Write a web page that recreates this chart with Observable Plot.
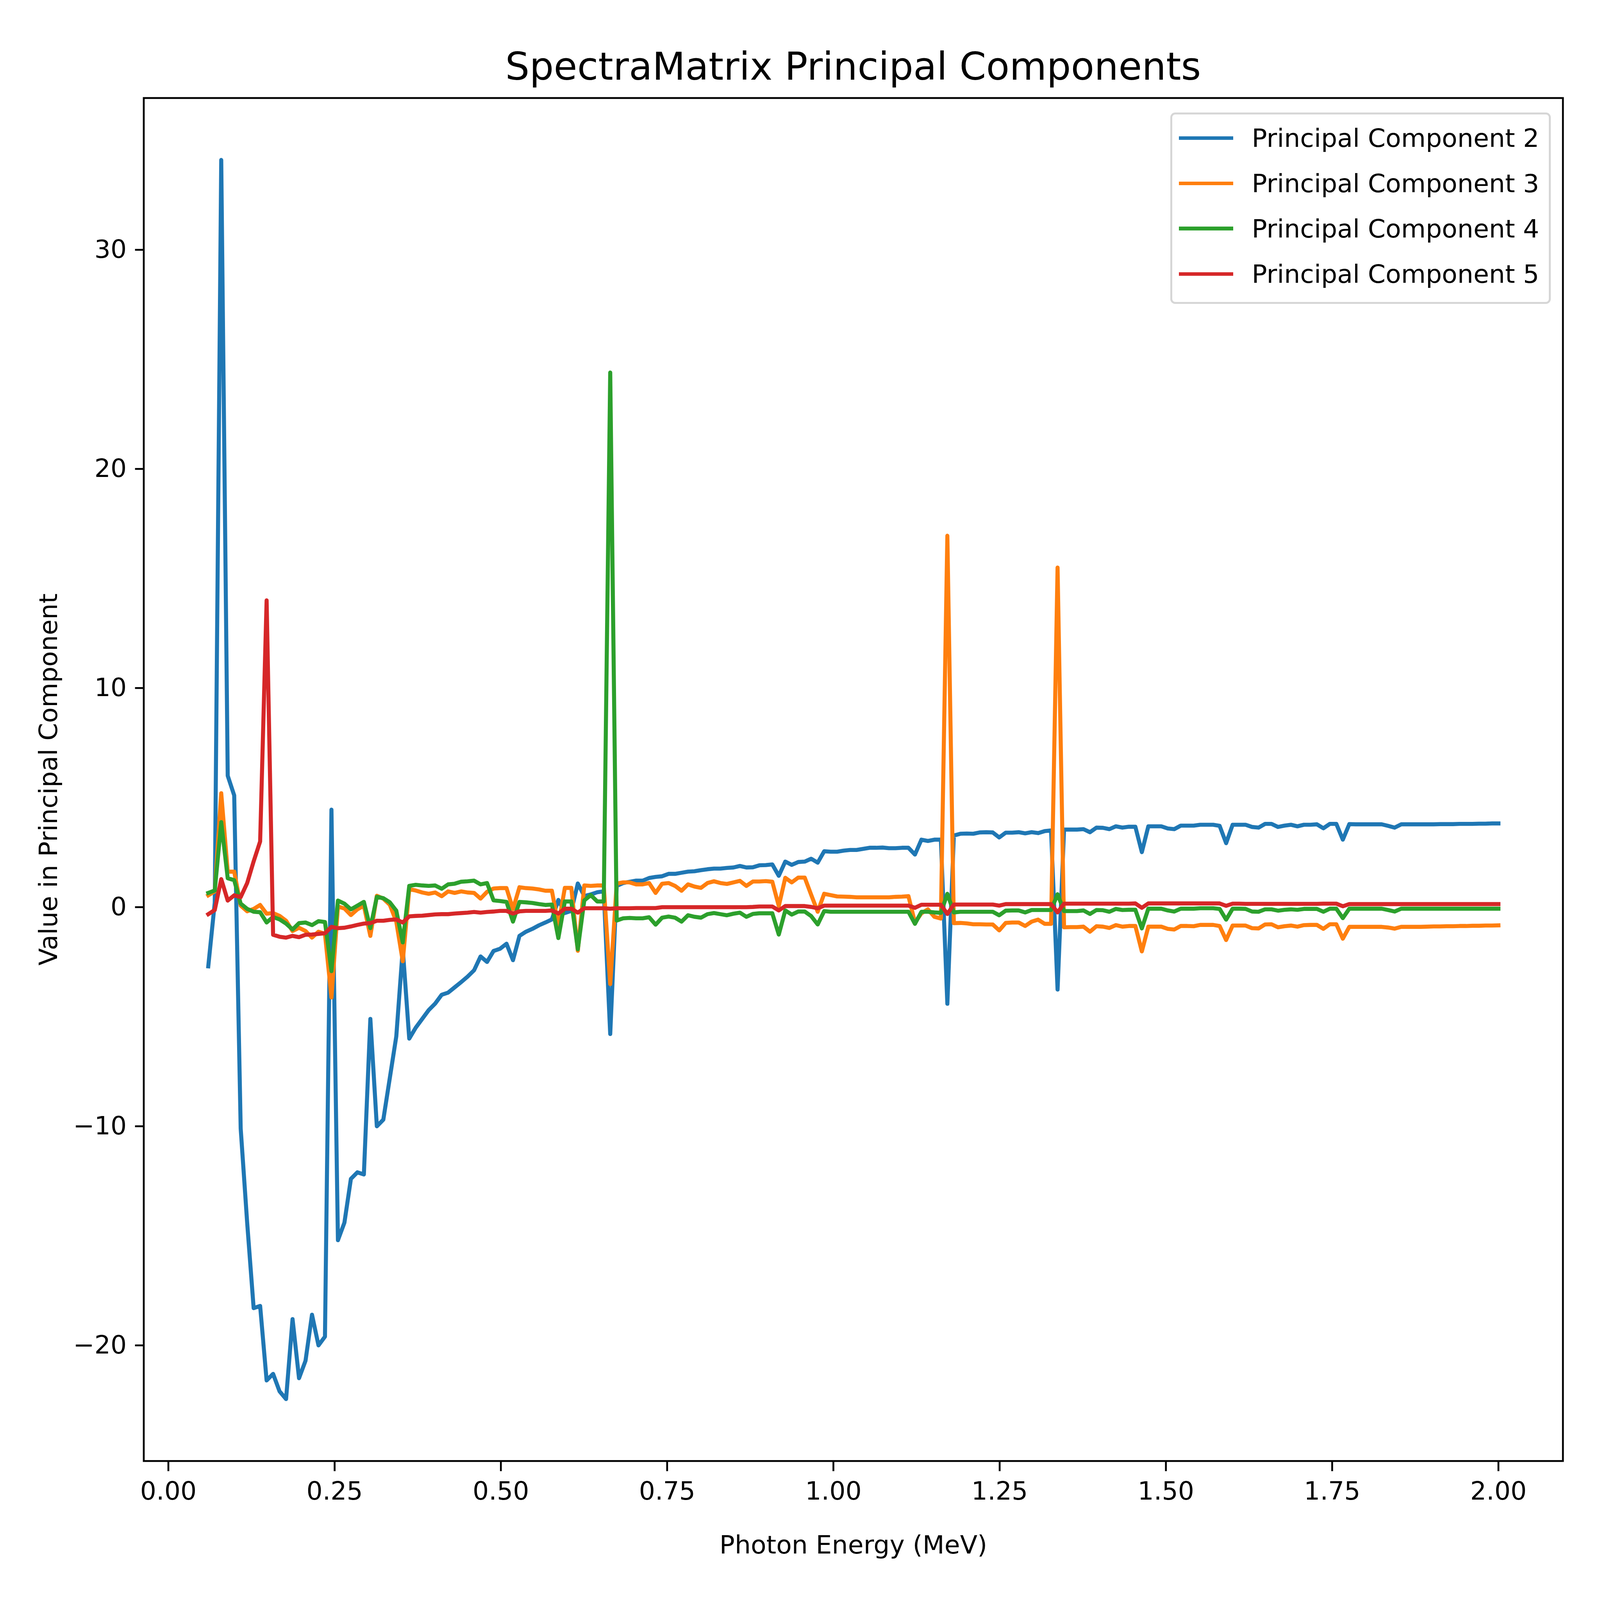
<!DOCTYPE html>
<html>
<head>
<meta charset="utf-8">
<script src="https://cdn.jsdelivr.net/npm/d3@7"></script>
<script src="https://cdn.jsdelivr.net/npm/@observablehq/plot@0.6"></script>
<style>
html, body { margin: 0; padding: 0; background: #fff; overflow: hidden; }
#fig { position: relative; font-family: "DejaVu Sans", sans-serif; overflow: hidden; background: #fff; }
#chart svg { display: block; }
.abs { position: absolute; white-space: nowrap; color: #000; line-height: 1; }
</style>
</head>
<body>
<div id="fig">
  <div id="chart"></div>
</div>
<script>
// ---- data ----
const titleText = "SpectraMatrix Principal Components";
const xLabel = "Photon Energy (MeV)";
const yLabel = "Value in Principal Component";
const seriesNames = ["Principal Component 2", "Principal Component 3", "Principal Component 4", "Principal Component 5"];
const xTicks = [0, 0.25, 0.5, 0.75, 1.0, 1.25, 1.5, 1.75, 2.0];
const yTicks = [-20, -10, 0, 10, 20, 30];
// energy channels: 200 channels from 0.06 to 2.0 MeV
const energyStart = 0.06;
const energyEnd = 2.0;

const pc2 = [
 -2.7, 0.2, 34.1, 6.0, 5.1, -10.1, -14.4, -18.3, -18.2, -21.6,
 -21.3, -22.1, -22.45, -18.8, -21.5, -20.7, -18.6, -20.0, -19.6, 4.45,
 -15.2, -14.4, -12.4, -12.1, -12.2, -5.1, -10.0, -9.7, -7.8, -5.9,
 -1.9, -6.0, -5.5, -5.1, -4.7, -4.4, -4.0, -3.9, -3.66, -3.42,
 -3.17, -2.88, -2.25, -2.5, -2.0, -1.9, -1.67, -2.42, -1.31, -1.12,
 -0.99, -0.83, -0.7, -0.56, 0.33, -0.27, -0.17, 1.08, 0.51, 0.58,
 0.68, 0.72, -5.79, 0.97, 1.1, 1.16, 1.21, 1.21, 1.33, 1.38,
 1.41, 1.52, 1.52, 1.57, 1.62, 1.64, 1.69, 1.73, 1.76, 1.76,
 1.79, 1.81, 1.88, 1.81, 1.82, 1.91, 1.92, 1.95, 1.43, 2.08,
 1.93, 2.06, 2.08, 2.21, 2.03, 2.55, 2.53, 2.53, 2.58, 2.61,
 2.61, 2.66, 2.71, 2.71, 2.72, 2.69, 2.69, 2.71, 2.71, 2.4,
 3.08, 3.02, 3.08, 3.08, -4.41, 3.27, 3.35, 3.36, 3.35, 3.41,
 3.42, 3.41, 3.18, 3.4, 3.4, 3.42, 3.37, 3.42, 3.38, 3.47,
 3.5, -3.76, 3.54, 3.54, 3.54, 3.56, 3.42, 3.63, 3.62, 3.56,
 3.69, 3.63, 3.67, 3.67, 2.51, 3.69, 3.69, 3.69, 3.59, 3.56,
 3.72, 3.72, 3.72, 3.76, 3.76, 3.76, 3.71, 2.92, 3.76, 3.76,
 3.76, 3.66, 3.63, 3.8, 3.8, 3.66, 3.72, 3.76, 3.69, 3.76,
 3.76, 3.78, 3.6, 3.8, 3.8, 3.08, 3.79, 3.78, 3.78, 3.78,
 3.78, 3.78, 3.71, 3.63, 3.78, 3.78, 3.78, 3.78, 3.78, 3.78,
 3.79, 3.79, 3.79, 3.8, 3.8, 3.8, 3.81, 3.81, 3.82, 3.82
];
const pc3 = [
 0.54, 0.72, 5.2, 1.62, 1.62, 0.07, -0.19, -0.08, 0.1, -0.3,
 -0.27, -0.4, -0.62, -1.09, -0.94, -1.09, -1.39, -1.12, -1.22, -4.12,
 0.03, -0.06, -0.36, -0.1, 0.07, -1.31, 0.52, 0.39, 0.11, -0.66,
 -2.47, 0.82, 0.76, 0.67, 0.61, 0.67, 0.5, 0.72, 0.65, 0.72,
 0.67, 0.65, 0.39, 0.7, 0.85, 0.87, 0.87, -0.09, 0.91, 0.87,
 0.85, 0.81, 0.75, 0.75, -0.82, 0.88, 0.88, -1.99, 0.99, 0.97,
 0.99, 0.99, -3.51, 1.08, 1.13, 1.13, 1.04, 1.04, 1.1, 0.65,
 1.07, 1.1, 0.97, 0.75, 1.04, 0.94, 0.88, 1.1, 1.18, 1.1,
 1.06, 1.13, 1.2, 0.97, 1.17, 1.17, 1.19, 1.16, 0.05, 1.34,
 1.13, 1.35, 1.35, 0.56, -0.21, 0.61, 0.55, 0.49, 0.48, 0.47,
 0.45, 0.45, 0.45, 0.45, 0.45, 0.45, 0.47, 0.48, 0.5, -0.7,
 -0.28, -0.1, -0.44, -0.52, 16.95, -0.73, -0.72, -0.74, -0.78, -0.78,
 -0.79, -0.79, -1.06, -0.72, -0.7, -0.7, -0.86, -0.66, -0.57, -0.76,
 -0.76, 15.5, -0.92, -0.91, -0.91, -0.89, -1.12, -0.87, -0.89, -0.95,
 -0.82, -0.89, -0.86, -0.86, -2.02, -0.89, -0.89, -0.89, -0.99, -1.02,
 -0.86, -0.86, -0.87, -0.81, -0.81, -0.81, -0.86, -1.5, -0.84, -0.84,
 -0.84, -0.96, -0.97, -0.79, -0.78, -0.92, -0.87, -0.84, -0.89, -0.82,
 -0.81, -0.81, -0.99, -0.78, -0.78, -1.44, -0.9, -0.9, -0.9, -0.9,
 -0.9, -0.9, -0.93, -0.98, -0.9, -0.9, -0.9, -0.9, -0.89, -0.88,
 -0.88, -0.87, -0.87, -0.86, -0.86, -0.85, -0.85, -0.84, -0.84, -0.83
];
const pc4 = [
 0.65, 0.76, 3.88, 1.32, 1.23, 0.16, -0.08, -0.21, -0.23, -0.7,
 -0.45, -0.56, -0.75, -1.02, -0.73, -0.7, -0.82, -0.64, -0.68, -2.92,
 0.3, 0.16, -0.1, 0.07, 0.24, -0.96, 0.47, 0.41, 0.22, -0.16,
 -1.61, 0.97, 1.02, 0.99, 0.97, 0.99, 0.84, 1.04, 1.07, 1.16,
 1.18, 1.21, 1.04, 1.1, 0.31, 0.28, 0.24, -0.66, 0.24, 0.22,
 0.19, 0.14, 0.1, 0.12, -1.41, 0.26, 0.26, -1.92, 0.31, 0.55,
 0.26, 0.26, 24.4, -0.61, -0.51, -0.49, -0.51, -0.51, -0.46, -0.8,
 -0.48, -0.43, -0.48, -0.66, -0.37, -0.44, -0.48, -0.32, -0.27, -0.32,
 -0.37, -0.3, -0.25, -0.44, -0.31, -0.28, -0.28, -0.28, -1.25, -0.15,
 -0.34, -0.2, -0.2, -0.41, -0.79, -0.18, -0.21, -0.21, -0.21, -0.21,
 -0.21, -0.21, -0.21, -0.21, -0.21, -0.21, -0.21, -0.21, -0.21, -0.76,
 -0.21, -0.21, -0.24, -0.26, 0.61, -0.24, -0.21, -0.21, -0.21, -0.21,
 -0.21, -0.21, -0.37, -0.16, -0.15, -0.15, -0.24, -0.13, -0.13, -0.13,
 -0.13, 0.59, -0.18, -0.18, -0.18, -0.15, -0.31, -0.13, -0.14, -0.21,
 -0.08, -0.13, -0.12, -0.12, -0.97, -0.07, -0.07, -0.07, -0.15, -0.2,
 -0.07, -0.07, -0.07, -0.05, -0.05, -0.05, -0.08, -0.57, -0.07, -0.07,
 -0.08, -0.2, -0.21, -0.1, -0.1, -0.16, -0.12, -0.1, -0.12, -0.08,
 -0.08, -0.08, -0.21, -0.07, -0.07, -0.5, -0.07, -0.07, -0.07, -0.07,
 -0.07, -0.07, -0.13, -0.2, -0.07, -0.07, -0.07, -0.07, -0.07, -0.07,
 -0.07, -0.07, -0.07, -0.07, -0.07, -0.07, -0.07, -0.07, -0.07, -0.07
];
const pc5 = [
 -0.32, -0.13, 1.28, 0.3, 0.54, 0.46, 1.1, 2.09, 3.0, 14.0,
 -1.26, -1.35, -1.39, -1.31, -1.37, -1.26, -1.25, -1.22, -1.19, -0.9,
 -0.96, -0.94, -0.88, -0.81, -0.75, -0.73, -0.62, -0.62, -0.58, -0.56,
 -0.7, -0.42, -0.4, -0.39, -0.36, -0.33, -0.32, -0.32, -0.29, -0.27,
 -0.25, -0.22, -0.25, -0.22, -0.2, -0.17, -0.17, -0.29, -0.19, -0.17,
 -0.17, -0.17, -0.17, -0.15, -0.29, -0.07, -0.07, -0.25, -0.05, -0.05,
 -0.05, -0.05, -0.07, -0.05, -0.05, -0.05, -0.04, -0.04, -0.04, -0.04,
 0.0, 0.0, 0.0, 0.0, 0.0, 0.0, 0.0, 0.0, 0.0, 0.0,
 0.0, 0.0, 0.0, 0.0, 0.01, 0.03, 0.03, 0.03, -0.15, 0.05,
 0.05, 0.05, 0.05, 0.01, -0.05, 0.07, 0.07, 0.07, 0.07, 0.07,
 0.07, 0.07, 0.07, 0.07, 0.07, 0.07, 0.07, 0.07, 0.07, -0.03,
 0.11, 0.11, 0.11, 0.11, -0.31, 0.12, 0.12, 0.12, 0.12, 0.12,
 0.12, 0.12, 0.07, 0.14, 0.14, 0.14, 0.14, 0.14, 0.14, 0.14,
 0.14, -0.24, 0.16, 0.16, 0.16, 0.16, 0.16, 0.16, 0.16, 0.16,
 0.16, 0.16, 0.16, 0.17, -0.03, 0.17, 0.17, 0.17, 0.17, 0.17,
 0.17, 0.17, 0.17, 0.17, 0.17, 0.17, 0.17, 0.06, 0.16, 0.16,
 0.15, 0.15, 0.15, 0.15, 0.15, 0.15, 0.15, 0.15, 0.15, 0.15,
 0.15, 0.15, 0.16, 0.16, 0.16, 0.04, 0.14, 0.14, 0.14, 0.14,
 0.14, 0.14, 0.14, 0.14, 0.14, 0.14, 0.14, 0.14, 0.14, 0.14,
 0.14, 0.14, 0.14, 0.14, 0.14, 0.14, 0.14, 0.14, 0.14, 0.14
];

// ---- styles ----
const colors = ["#1f77b4", "#ff7f0e", "#2ca02c", "#d62728"];

// ---- layout: reference figure is 5238 x 4334; fit to the actual viewport ----
const REF_W = 5238, REF_H = 4334;
const W = window.innerWidth || REF_W;
const H = window.innerHeight || REF_H;
const sx = W / REF_W, sy = H / REF_H;
const fs = Math.min(sx, sy);
const fig = document.getElementById("fig");
fig.style.width = W + "px";
fig.style.height = H + "px";

// ---- build table ----
const seriesValues = [pc2, pc3, pc4, pc5];
const nChannels = pc2.length;
const energies = d3.range(nChannels).map(i => energyStart + i * (energyEnd - energyStart) / (nChannels - 1));
const table = seriesValues.flatMap((vals, s) => vals.map((v, i) => ({energy: energies[i], value: v, series: seriesNames[s]})));

const xPad = (energyEnd - energyStart) * 0.05;
const allVals = seriesValues.flat();
const yMin = d3.min(allVals), yMax = d3.max(allVals);
const yPad = (yMax - yMin) * 0.05;

const lineW = 12 * (sx + sy) / 2;
const lineMarks = seriesNames.map((name, s) => Plot.line(table, {
  filter: d => d.series === name,
  x: "energy", y: "value",
  stroke: colors[s], strokeWidth: lineW,
  strokeLinejoin: "round", strokeLinecap: "square"
}));

const tickFont = 83 * fs;
const spineW = Math.max(1, 6 * fs);

const chart = Plot.plot({
  width: W,
  height: H,
  marginTop: 265 * sy,
  marginLeft: 470 * sx,
  marginRight: 122 * sx,
  marginBottom: 377 * sy,
  style: {fontFamily: "DejaVu Sans", fontSize: tickFont + "px", background: "white", color: "black", overflow: "visible"},
  x: {domain: [energyStart - xPad, energyEnd + xPad]},
  y: {domain: [yMin - yPad, yMax + yPad]},
  marks: [
    ...lineMarks,
    Plot.frame({stroke: "black", strokeWidth: spineW}),
    Plot.axisX({ticks: xTicks, tickFormat: d3.format(".2f"), tickSize: 28 * sy, tickPadding: 28 * sy, strokeWidth: spineW, fontSize: tickFont,
      label: xLabel, labelAnchor: "center", labelArrow: "none", labelOffset: 251 * sy}),
    Plot.axisY({ticks: yTicks, tickSize: 28 * sx, tickPadding: 28 * sx, strokeWidth: spineW, fontSize: tickFont,
      label: yLabel, labelAnchor: "center", labelArrow: "none", labelOffset: 343 * sx})
  ]
});
document.getElementById("chart").appendChild(chart);

function addAbs(styles, text) {
  const el = document.createElement("div");
  el.className = "abs";
  Object.assign(el.style, styles);
  if (text != null) el.textContent = text;
  fig.appendChild(el);
  return el;
}

// title (centred over the plot frame, baseline ~217 ref px)
const titleFont = 125 * fs;
addAbs({left: (470 * sx) + "px", width: ((5116 - 470) * sx) + "px", textAlign: "center",
  top: (217 * sy - 0.846 * titleFont) + "px", fontSize: titleFont + "px"}, titleText);

// legend box (upper right, inside the frame)
addAbs({left: (3831 * sx) + "px", top: (305 * sy) + "px", width: (1246 * sx) + "px", height: (518 * sy) + "px",
  boxSizing: "border-box", border: (7 * fs) + "px solid #d6d6d6", borderRadius: (16 * fs) + "px",
  background: "rgba(255,255,255,0.8)"});
const rowCenters = [374, 497, 619, 742];
seriesNames.forEach((name, s) => {
  const cy = rowCenters[s] * sy;
  const swH = 12 * fs;
  addAbs({left: (3859 * sx) + "px", top: (cy - swH / 2) + "px", width: (178 * sx) + "px", height: swH + "px", background: colors[s]});
  addAbs({left: (4098 * sx) + "px", top: (cy + 30 * fs - 0.846 * tickFont) + "px", fontSize: tickFont + "px"}, name);
});
</script>
</body>
</html>
